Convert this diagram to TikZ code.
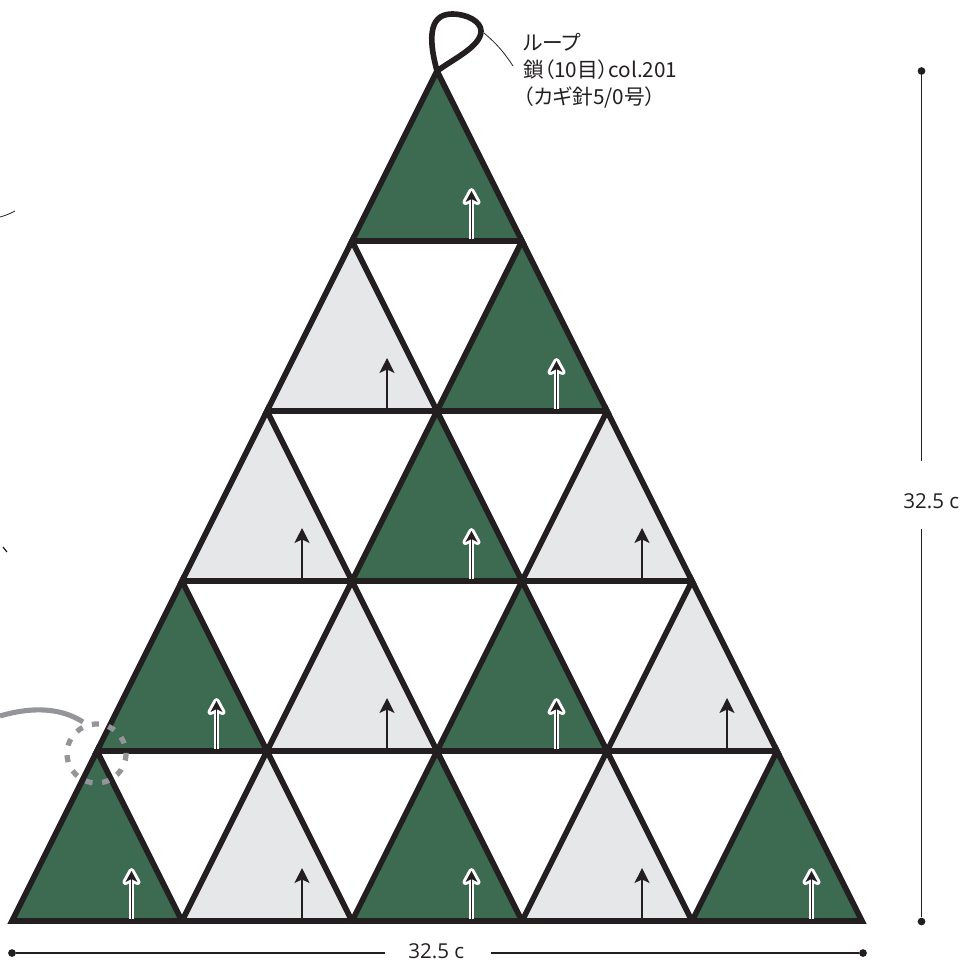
\documentclass[tikz,border=0pt]{standalone}
\usepackage{fontspec}
\setmainfont{Open Sans}
\newfontfamily\jpfont[RawFeature=+palt]{Noto Sans CJK JP}
\usepackage{xcolor}
\usetikzlibrary{arrows.meta,positioning}
\definecolor{CellGreen}{HTML}{3D6B52}
\definecolor{CellGray}{HTML}{E6E7E8}
\definecolor{InkDark}{HTML}{231F20}
\definecolor{MarkGray}{HTML}{939598}
\tikzset{
  celledge/.style={draw=InkDark,line width=3.2pt,miter limit=10},
  whiteshaft/.style={draw=white,line width=2.7pt},
  whitehead/.style={draw=white,fill=white,line width=3.4pt,line join=round},
  darkhead/.style={fill=InkDark},
  innershaft/.style={draw=InkDark,line width=0.55pt},
  darkarrow/.style={draw=InkDark,line width=0.7pt,-{Stealth[length=8.5pt,width=8.5pt,inset=2pt]}},
  greencell/.pic={
    \path[celledge,fill=CellGreen] (0,0)--(170,0)--(85,-170)--cycle;
    \path[whitehead] (119.5,-50)--(125.5,-39)--(119.5,-42)--(113.5,-39)--cycle;
    \draw[whiteshaft] (119.5,-2.5)--(119.5,-40);
    \draw[innershaft] (119.5,-2.5)--(119.5,-42);
    \path[darkhead] (119.5,-50)--(125.5,-39)--(119.5,-42)--(113.5,-39)--cycle;
  },
  graycell/.pic={
    \path[celledge,fill=CellGray] (0,0)--(170,0)--(85,-170)--cycle;
    \draw[darkarrow] (120,-2.5)--(120,-53);
  },
  dimdot/.style={circle,fill=InkDark,inner sep=0pt,minimum size=4.4pt},
  dimline/.style={draw=InkDark,line width=0.6pt},
  dimtext/.style={inner sep=0pt,text=InkDark,font=\fontsize{11.7}{14}\selectfont},
  loopline/.style={draw=InkDark,line width=3.2pt,line cap=round},
  leader/.style={draw=InkDark,line width=0.45pt},
  notetext/.style={inner sep=0pt,anchor=north west,align=left,text=InkDark,font=\jpfont\fontsize{11.8}{15.6}\selectfont},
  zoomring/.style={draw=MarkGray,line width=3pt,dash pattern=on 4pt off 5.55pt},
  zoomcurve/.style={draw=MarkGray,line width=2.9pt}
}
\begin{document}
\begin{tikzpicture}[x=0.02cm,y=-0.02cm]
\clip (0,0) rectangle (962,961);
\pic at (352,241) {greencell};
\pic at (267,411) {graycell};
\pic at (437,411) {greencell};
\pic at (182,581) {graycell};
\pic at (352,581) {greencell};
\pic at (522,581) {graycell};
\pic at (97,751) {greencell};
\pic at (267,751) {graycell};
\pic at (437,751) {greencell};
\pic at (607,751) {graycell};
\pic at (12,921) {greencell};
\pic at (182,921) {graycell};
\pic at (352,921) {greencell};
\pic at (522,921) {graycell};
\pic at (692,921) {greencell};
\coordinate (loopbase) at (437,71);
\coordinate (looptip) at (484,33);
\draw[loopline] (loopbase) .. controls (430,45) and (426,14) .. (452,14) .. controls (468,14) and (481,22) .. (481,31) .. controls (481,46) and (455,58) .. (loopbase);
\node[notetext] (loopnote) at (523,32.5) {ループ\\鎖（10目）col.201\\（カギ針5/0号）};
\coordinate (leaderend) at (513,66);
\draw[leader] (looptip) to[bend left=8] (leaderend);
\node[dimdot] (righttop) at (921.5,71) {};
\node[dimdot] (rightbot) at (921.5,921.5) {};
\node[dimtext,anchor=base west] (rightlabel) at (903,508.5) {32.5 c};
\coordinate (rightgapa) at (921.5,460.5);
\coordinate (rightgapb) at (921.5,529);
\draw[dimline] (righttop)--(rightgapa);
\draw[dimline] (rightgapb)--(rightbot);
\node[dimdot] (bottomleft) at (12,953) {};
\node[dimdot] (bottomright) at (863,953) {};
\node[dimtext,anchor=base west] (bottomlabel) at (408,958.5) {32.5 c};
\coordinate (bottomgapa) at (385,953);
\coordinate (bottomgapb) at (491,953);
\draw[dimline] (bottomleft)--(bottomgapa);
\draw[dimline] (bottomgapb)--(bottomright);
\coordinate (ringcenter) at (96.5,753.5);
\draw[zoomring] (ringcenter) circle (29.5);
\coordinate (curvestart) at (0,716);
\coordinate (curveend) at (83,722);
\draw[zoomcurve] (curvestart) .. controls (30,707) and (60,707) .. (curveend);
\coordinate (stubaa) at (0,217);
\coordinate (stubab) at (15,211);
\draw[leader] (stubaa) to[bend right=6] (stubab);
\coordinate (stubba) at (3,547);
\coordinate (stubbb) at (7,552);
\draw[leader,line width=0.7pt] (stubba)--(stubbb);
\end{tikzpicture}
\end{document}
